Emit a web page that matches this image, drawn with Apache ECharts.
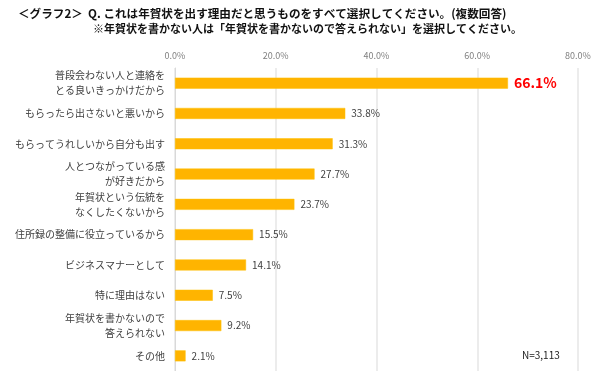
<!DOCTYPE html>
<html><head><meta charset="utf-8">
<script src="https://cdn.jsdelivr.net/npm/echarts@6/dist/echarts.min.js"></script>
<style>html,body{margin:0;padding:0;background:#fff}#c{width:600px;height:371px}</style>
</head><body><div id="c"></div>
<script>
const categories = ['普段会わない人と連絡を\nとる良いきっかけだから','もらったら出さないと悪いから','もらってうれしいから自分も出す','人とつながっている感\nが好きだから','年賀状という伝統を\nなくしたくないから','住所録の整備に役立っているから','ビジネスマナーとして','特に理由はない','年賀状を書かないので\n答えられない','その他'];
const values = [66.1, 33.8, 31.3, 27.7, 23.7, 15.5, 14.1, 7.5, 9.2, 2.1];
const tickValues = [0, 20, 40, 60, 80];
const titleLine1 = '＜グラフ2＞  Q. これは年賀状を出す理由だと思うものをすべて選択してください。(複数回答)';
const titleLine2 = '※年賀状を書かない人は「年賀状を書かないので答えられない」を選択してください。';
const noteText = 'N=3,113';

const chart = echarts.init(document.getElementById('c'));
const font = '"Noto Sans CJK JP", sans-serif';
chart.setOption({
  animation: false,
  textStyle: {fontFamily: font},
  graphic: [
    {type:'text', left:18, top:8, style:{text:titleLine1, font:'bold 11.6px ' + font, fill:'#111'}},
    {type:'text', left:93, top:23, style:{text:titleLine2, font:'bold 11px ' + font, fill:'#111'}},
    {type:'text', left:522, top:350, style:{text:noteText, font:'10px ' + font, fill:'#222'}}
  ],
  grid: {left:175, right:22, top:68, bottom:-2, containLabel:false},
  xAxis: {
    type:'value', position:'top', min:tickValues[0], max:tickValues[tickValues.length-1], interval:20,
    axisLabel:{formatter: v => v.toFixed(1) + '%', fontSize:9, color:'#7f7f7f', margin:8},
    axisLine:{show:false}, axisTick:{show:false},
    splitLine:{lineStyle:{color:'#e6e6e6', width:1.5}}
  },
  yAxis: {
    type:'category', data:categories, inverse:true,
    axisLine:{show:true, lineStyle:{color:'#d9d9d9', width:1}},
    axisTick:{show:false},
    axisLabel:{fontSize:10, color:'#404040', margin:10, lineHeight:15, align:'right'}
  },
  series: [{
    type:'bar', data: values.map((v,i) => i===0 ? {value:v, label:{color:'#ff0000', fontSize:14, fontWeight:'bold'}} : v),
    barWidth:11,
    itemStyle:{color:'#ffb400', borderColor:'#ffc000', borderWidth:0.5},
    label:{show:true, position:'right', distance:6, formatter: p => p.value.toFixed(1) + '%', fontSize:10, color:'#404040'}
  }]
});
</script></body></html>
